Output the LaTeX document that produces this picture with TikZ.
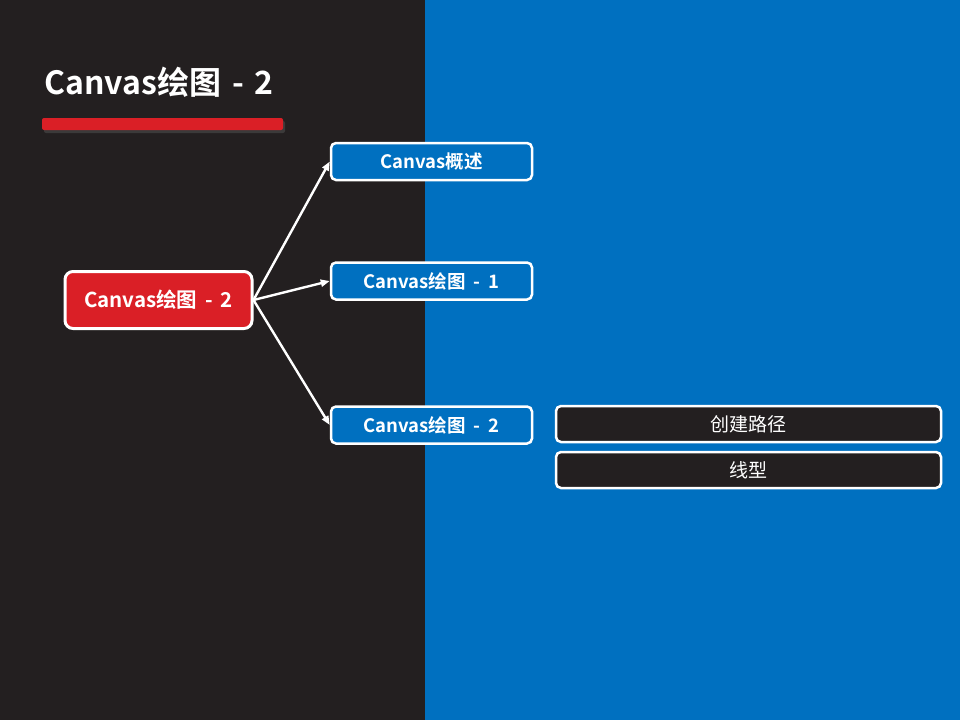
\documentclass[tikz,border=0pt]{standalone}
\usepackage{fontspec}
\setmainfont{Noto Sans CJK SC}[BoldFont={Noto Sans CJK SC Bold}]
\usetikzlibrary{arrows.meta,shadows}
\definecolor{darkbg}{HTML}{231F20}
\definecolor{bluebg}{HTML}{0070C0}
\definecolor{redc}{HTML}{DA1F26}
\newcommand{\dsh}[1]{\hspace{#1}-\hspace{#1}}
\tikzset{
  box/.style={draw=white, line width=2.5pt, rounded corners=5pt, text=white, inner sep=0pt},
  bluebox/.style={box, fill=bluebg, minimum width=201pt, minimum height=37pt, font=\bfseries\fontsize{18.5}{21}\selectfont},
  darkbox/.style={box, fill=darkbg, minimum width=385pt, minimum height=36pt, font=\fontsize{19}{22}\selectfont},
  conn/.style={white, line width=2.4pt, -{Triangle[length=9pt,width=7pt]}},
}
\begin{document}
\begin{tikzpicture}[x=1pt,y=-1pt]
\useasboundingbox (0,0) rectangle (960,720);
\fill[darkbg] (0,0) rectangle (425,720);
\fill[bluebg] (425,0) rectangle (960,720);
\node[anchor=west, text=white, font=\bfseries\fontsize{32}{36}\selectfont, inner sep=0pt] (title) at (44,82) {Canvas绘图\dsh{11pt}2};
\fill[black!70, opacity=0.6, rounded corners=2pt] (44,121) rectangle (285,133);
\fill[redc, rounded corners=2pt] (42,118) rectangle (283,130);
\node[box, fill=redc, line width=3pt, rounded corners=8pt, minimum width=187pt, minimum height=57pt, font=\bfseries\fontsize{20.5}{24}\selectfont] (root) at (158.5,300) {Canvas绘图\dsh{8pt}2};
\node[bluebox] (b1) at (431.5,161.5) {Canvas概述};
\node[bluebox] (b2) at (431.5,281) {Canvas绘图\dsh{8pt}1};
\node[bluebox] (b3) at (431.5,425) {Canvas绘图\dsh{8pt}2};
\node[darkbox] (d1) at (748.5,424) {创建路径};
\node[darkbox] (d2) at (748.5,470) {线型};
\draw[conn] (root.east) -- (b1.west);
\draw[conn] (root.east) -- (b2.west);
\draw[conn] (root.east) -- (b3.west);
\end{tikzpicture}
\end{document}
